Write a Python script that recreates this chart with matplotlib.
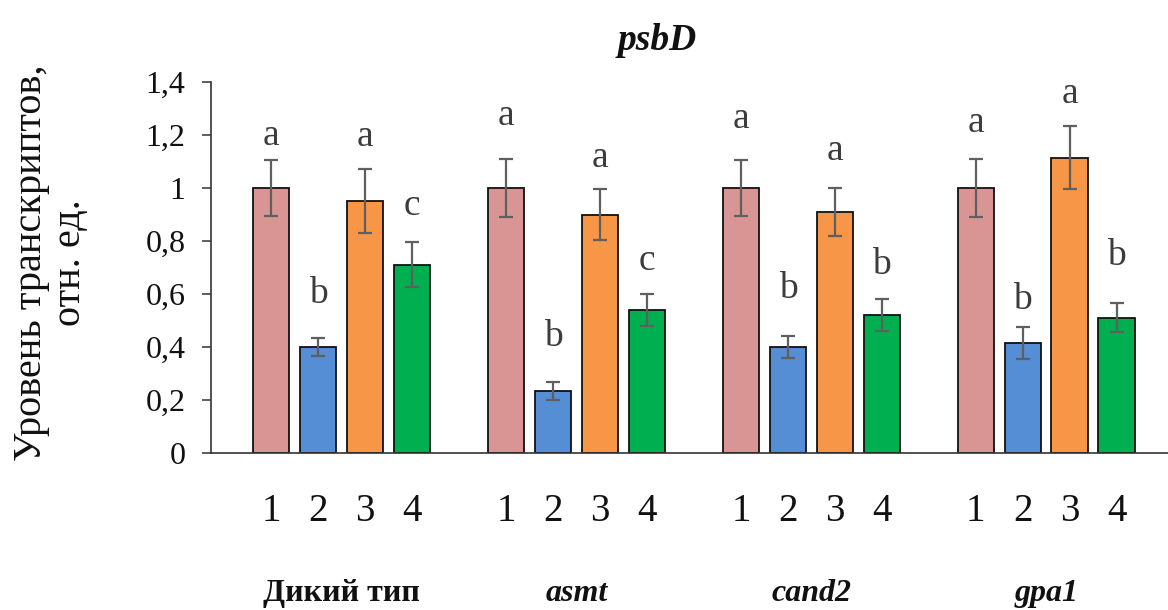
import numpy as np
import matplotlib
matplotlib.use('Agg')
import matplotlib.pyplot as plt

plt.rcParams['font.family'] = ['Liberation Serif', 'DejaVu Serif']

# data
groups = ['Дикий тип', 'asmt', 'cand2', 'gpa1']
group_styles = ['normal', 'italic', 'italic', 'italic']
bar_labels = ['1', '2', '3', '4']
colors = ['#D99594', '#558ED5', '#F79646', '#00B050']

values = [[1.00, 0.40, 0.95, 0.71],
          [1.00, 0.235, 0.90, 0.54],
          [1.00, 0.40, 0.91, 0.52],
          [1.00, 0.415, 1.115, 0.51]]
errors = [[0.105, 0.033, 0.12, 0.085],
          [0.11, 0.034, 0.095, 0.06],
          [0.105, 0.04, 0.09, 0.06],
          [0.11, 0.06, 0.12, 0.055]]
letters = [['a', 'b', 'a', 'c'],
           ['a', 'b', 'a', 'c'],
           ['a', 'b', 'a', 'b'],
           ['a', 'b', 'a', 'b']]
# letter baselines (as placed in the source figure)
letter_y = [[1.162, 0.566, 1.158, 0.898],
            [1.238, 0.405, 1.078, 0.690],
            [1.226, 0.585, 1.106, 0.674],
            [1.213, 0.543, 1.322, 0.709]]

yticks = [0, 0.2, 0.4, 0.6, 0.8, 1.0, 1.2, 1.4]
ytick_labels = ['0', '0,2', '0,4', '0,6', '0,8', '1', '1,2', '1,4']

fig = plt.figure(figsize=(11.68, 6.10), dpi=100)
ax = fig.add_axes([211/1168, 1 - 453/610, 1 - 211/1168, (453-82)/610])

xpos = []
for g in range(len(groups)):
    x = np.arange(4) + g*5
    xpos.extend(x)
    ax.bar(x, values[g], width=0.78, color=colors, edgecolor='#111111', linewidth=1.3, zorder=2)
    ax.errorbar(x, values[g], yerr=errors[g], fmt='none', ecolor='#5f5f5f',
                elinewidth=1.6, capsize=4.7, capthick=1.6, zorder=3)
    for j in range(4):
        ax.text(x[j], letter_y[g][j], letters[g][j], ha='center', va='baseline',
                fontsize=27, color='#3c3c3c')
    ax.text(x.mean(), -0.40, groups[g], transform=ax.get_xaxis_transform(),
            ha='center', va='baseline', fontsize=23, fontweight='bold',
            fontstyle=group_styles[g], color='#111111')

ax.set_xticks(xpos)
ax.set_xticklabels(bar_labels*4, fontsize=28, color='#111111')
ax.tick_params(axis='x', length=0, pad=29)
ax.set_yticks(yticks)
ax.set_yticklabels(ytick_labels, fontsize=23, color='#111111')
ax.tick_params(axis='y', direction='out', length=6.5, width=1.1, pad=12, color='#333333')

ax.set_xlim(-1.28, 19.09)
ax.set_ylim(0, 1.4)
for s in ['top', 'right']:
    ax.spines[s].set_visible(False)
for s in ['left', 'bottom']:
    ax.spines[s].set_linewidth(1.2)
    ax.spines[s].set_color('#333333')

fig.text(657/1168, 1 - 40/610, 'psbD', ha='center', va='center', fontsize=27,
         fontweight='bold', fontstyle='italic', color='#111111')
fig.text(51/1168, 1 - 263/610, 'Уровень транскриптов,\nотн. ед.', rotation=90,
         ha='center', va='center', fontsize=29, linespacing=1.05,
         multialignment='center', color='#111111')

fig.savefig('out.png', dpi=100)
